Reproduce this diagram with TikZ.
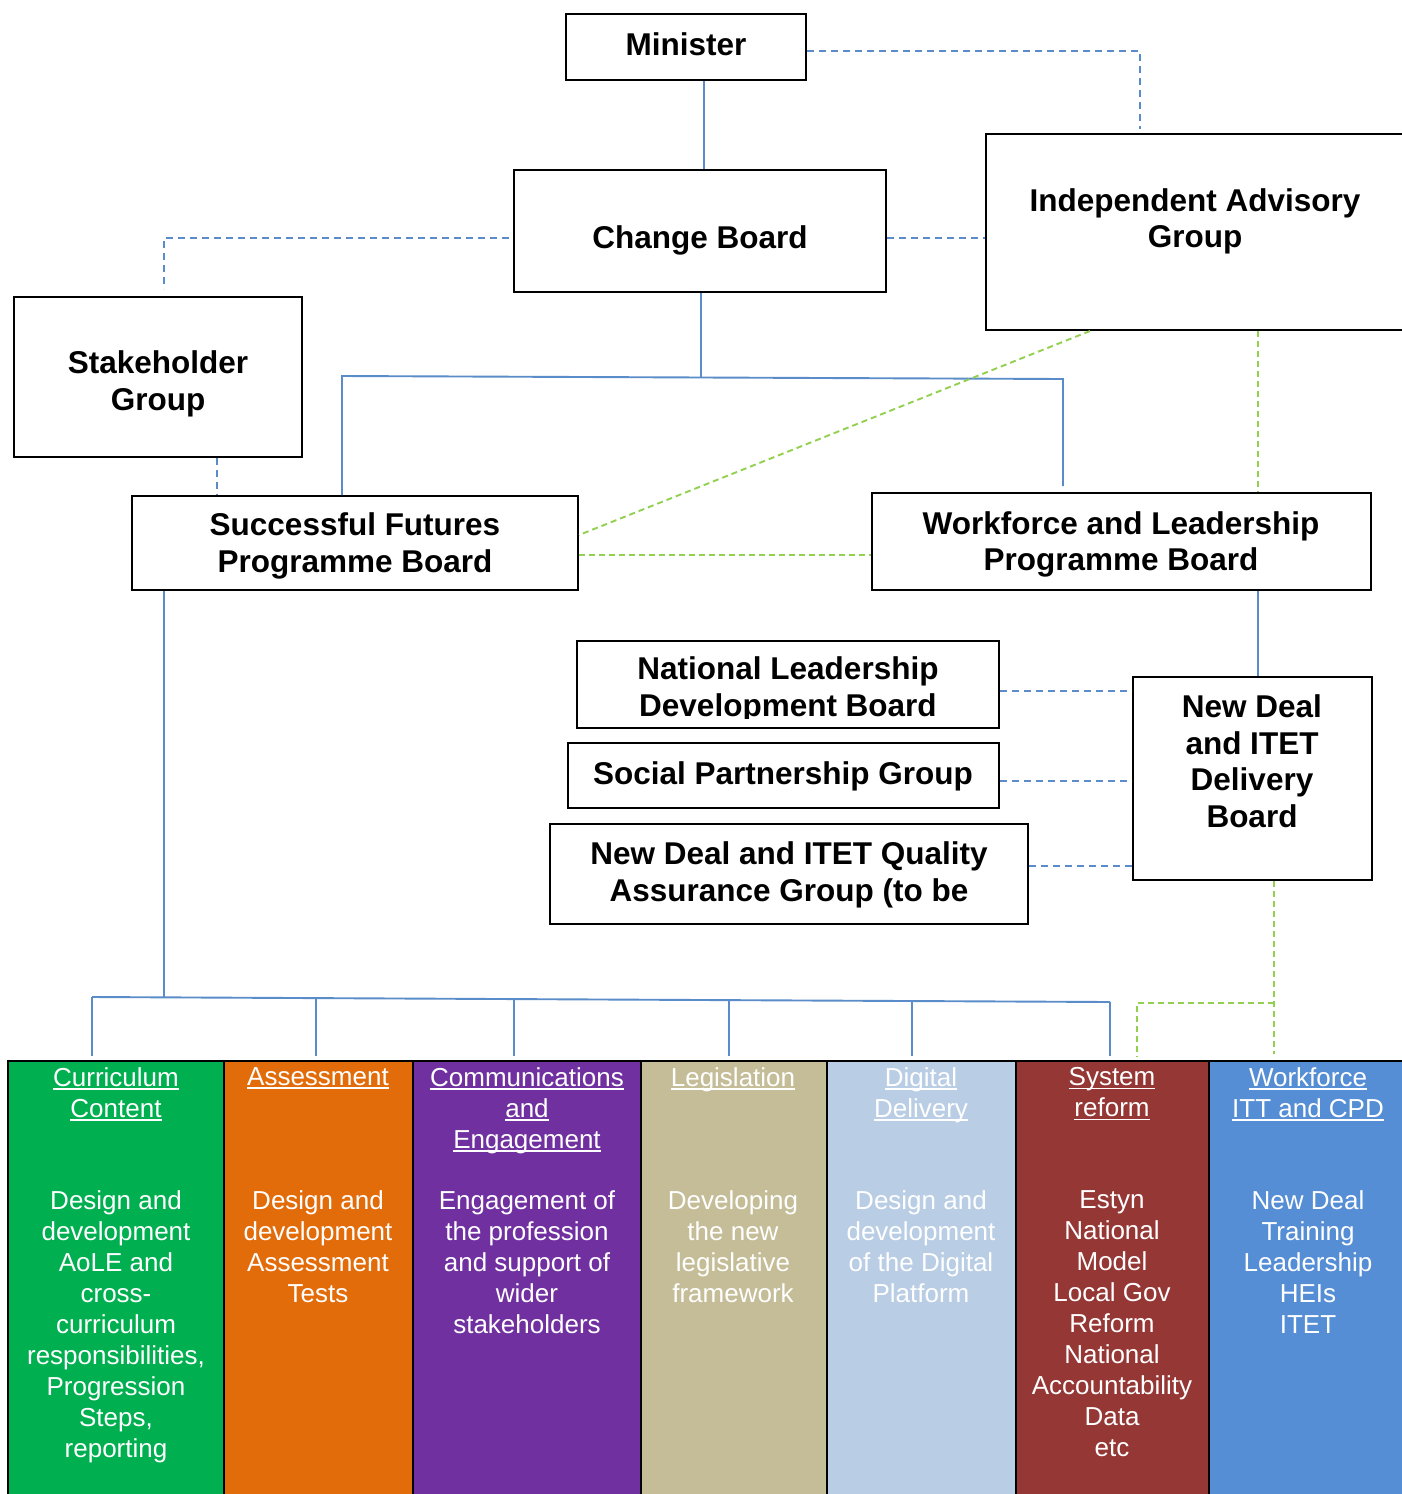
\documentclass[tikz,border=0pt]{standalone}
\usepackage{fontspec}
\setmainfont{Liberation Sans}
\definecolor{cgreen}{HTML}{00B050}
\definecolor{corange}{HTML}{E36C0A}
\definecolor{cpurple}{HTML}{7030A0}
\definecolor{ctan}{HTML}{C4BD97}
\definecolor{clblue}{HTML}{B9CDE5}
\definecolor{cred}{HTML}{953735}
\definecolor{cblue}{HTML}{558ED5}
\definecolor{linkblue}{HTML}{5A8CC9}
\definecolor{lgreen}{HTML}{92D050}
\newcommand{\myul}[1]{\setbox0\hbox{#1}\rlap{\rule[-3.6pt]{\wd0}{1.3pt}}\box0}
\tikzset{
  boxnode/.style={draw=black, line width=2pt, fill=white, inner sep=0pt},
  btext/.style={inner sep=0pt, align=center, font=\bfseries\fontsize{31.5}{36.5}\selectfont},
  colnode/.style={draw=black, line width=2.5pt, inner sep=0pt, minimum height=449pt},
  coltext/.style={inner sep=0pt, align=center, anchor=north, text=white, font=\fontsize{26}{31}\selectfont},
  solidln/.style={draw=linkblue, line width=1.9pt},
  bluedash/.style={draw=linkblue, line width=1.9pt, dash pattern=on 7pt off 5pt},
  greendash/.style={draw=lgreen, line width=1.9pt, dash pattern=on 6pt off 4pt}
}
\begin{document}
\begin{tikzpicture}[x=1pt,y=-1pt]
\useasboundingbox (0,0) rectangle (1402,1494);
\fill[white] (0,0) rectangle (1402,1494);

% ---- boxes ----
\node[boxnode, minimum width=240pt, minimum height=66pt] (min) at (686,47) {};
\node[btext] (minT) at (686,44) {Minister};
\node[boxnode, minimum width=372pt, minimum height=122pt] (cb) at (700,231) {};
\node[btext] (cbT) at (700,240) {Change Board};
\node[boxnode, minimum width=424pt, minimum height=196pt] (iag) at (1198,232) {};
\node[btext] (iagT) at (1195,221.5) {Independent Advisory\\Group};
\node[boxnode, minimum width=288pt, minimum height=160pt] (sh) at (158,377) {};
\node[btext] (shT) at (158,384) {Stakeholder\\Group};
\node[boxnode, minimum width=446pt, minimum height=94pt] (sf) at (355,543) {};
\node[btext] (sfT) at (355,546) {Successful Futures\\Programme Board};
\node[boxnode, minimum width=499pt, minimum height=97pt] (wl) at (1121.5,541.5) {};
\node[btext] (wlT) at (1121,544.5) {Workforce and Leadership\\Programme Board};
\node[boxnode, minimum width=422pt, minimum height=87pt] (nl) at (788,684.5) {};
\begin{scope}
\clip (nl.north west) rectangle ([yshift=11pt]nl.south east);
\node[btext] (nlT) at (788,690) {National Leadership\\Development Board};
\end{scope}
\node[boxnode, minimum width=431pt, minimum height=65pt] (sp) at (783.5,775.5) {};
\node[btext] (spT) at (783,776) {Social Partnership Group};
\node[boxnode, minimum width=478pt, minimum height=100pt] (qa) at (789,874) {};
\begin{scope}
\clip (qa.north west) rectangle ([yshift=12.5pt]qa.south east);
\node[btext] (qaT) at (789,893) {New Deal and ITET Quality\\Assurance Group (to be\\confirmed)};
\end{scope}
\node[boxnode, minimum width=239pt, minimum height=203pt] (nd) at (1252.5,778.5) {};
\node[btext] (ndT) at (1252,761) {New Deal\\and ITET\\Delivery\\Board};

% ---- columns ----
\node[colnode, fill=cgreen, minimum width=216pt] (colC) at (116,1285.5) {};
\node[colnode, fill=corange, minimum width=189pt] (colA) at (318.5,1285.5) {};
\node[colnode, fill=cpurple, minimum width=228pt] (colCo) at (527,1285.5) {};
\node[colnode, fill=ctan, minimum width=186pt] (colL) at (734,1285.5) {};
\node[colnode, fill=clblue, minimum width=189pt] (colD) at (921.5,1285.5) {};
\node[colnode, fill=cred, minimum width=193pt] (colS) at (1112.5,1285.5) {};
\node[colnode, fill=cblue, minimum width=201pt] (colW) at (1309.5,1285.5) {};

\node[coltext] (hC) at (116,1067) {\myul{Curriculum}\\\myul{Content}};
\node[coltext] (hA) at (318,1067) {\myul{Assessment}};
\node[coltext] (hCo) at (527,1067) {\myul{Communications}\\\myul{and}\\\myul{Engagement}};
\node[coltext] (hL) at (733,1067) {\myul{Legislation}};
\node[coltext] (hD) at (921,1067) {\myul{Digital}\\\myul{Delivery}};
\node[coltext] (hS) at (1112,1067) {\myul{System}\\\myul{reform}};
\node[coltext] (hW) at (1308,1067) {\myul{Workforce}\\\myul{ITT and CPD}};

\node[coltext] (tC) at (116,1190) {Design and\\development\\AoLE and\\cross-\\curriculum\\responsibilities,\\Progression\\Steps,\\reporting};
\node[coltext] (tA) at (318,1190) {Design and\\development\\Assessment\\Tests};
\node[coltext] (tCo) at (527,1190) {Engagement of\\the profession\\and support of\\wider\\stakeholders};
\node[coltext] (tL) at (733,1190) {Developing\\the new\\legislative\\framework};
\node[coltext] (tD) at (921,1190) {Design and\\development\\of the Digital\\Platform};
\node[coltext] (tS) at (1112,1190) {Estyn\\National\\Model\\Local Gov\\Reform\\National\\Accountability\\Data\\etc};
\node[coltext] (tW) at (1308,1190) {New Deal\\Training\\Leadership\\HEIs\\ITET};

% ---- connectors ----
\draw[solidln] ([xshift=18pt]min.south) -- ([xshift=4pt]cb.north);
\draw[bluedash] ([yshift=-4pt]min.east) -| ([xshift=-58pt,yshift=4pt]iag.north);
\draw[bluedash] ([yshift=-7pt]cb.east) -- ([yshift=-6pt]iag.west);
\draw[bluedash] ([xshift=-4pt,yshift=-7pt]cb.west) -| ([xshift=6pt,yshift=7pt]sh.north);
\draw[bluedash] ([xshift=59pt]sh.south) -- ([xshift=-138pt]sf.north);

\coordinate (busL) at (342,376);
\coordinate (busR) at (1063,379);
\coordinate (busM) at (701,377.5);
\draw[solidln] ([xshift=1pt]cb.south) -- (busM);
\draw[solidln] ([xshift=-13pt]sf.north) -- (busL) -- (busR) -- ([xshift=-58.5pt,yshift=6pt]wl.north);

\draw[greendash] ([xshift=-108pt]iag.south) -- ([yshift=8pt]sf.east);
\draw[greendash] ([yshift=-12pt]sf.east) -- ([yshift=-13.5pt]wl.west);
\draw[greendash] ([xshift=60pt]iag.south) -- ([xshift=136.5pt]wl.north);

\draw[solidln] ([xshift=136.5pt]wl.south) -- ([xshift=5.5pt]nd.north);
\draw[bluedash] ([yshift=-6.5pt]nl.east) -- ([yshift=87.5pt]nd.west);
\draw[bluedash] ([yshift=-5.5pt]sp.east) -- ([yshift=-2.5pt]nd.west);
\draw[bluedash] ([yshift=8pt]qa.east) -- ([yshift=-87.5pt]nd.west);

\coordinate (gj) at (1274,1003);
\draw[greendash] ([xshift=21.5pt]nd.south) -- ([xshift=-35.5pt,yshift=6pt]colW.north);
\draw[greendash] (gj) -| ([xshift=24.5pt,yshift=3pt]colS.north);

\coordinate (bj) at (164,997.3);
\coordinate (b1) at (92,997);
\coordinate (b2) at (316,998.1);
\coordinate (b3) at (514,999.1);
\coordinate (b4) at (729,1000.1);
\coordinate (b5) at (912,1001);
\coordinate (b6) at (1110,1002);
\draw[solidln] ([xshift=-191pt]sf.south) -- (bj);
\draw[solidln] (b1) -- (b6);
\draw[solidln] (b1) -- ([xshift=-24pt,yshift=4pt]colC.north);
\draw[solidln] (b2) -- ([xshift=-2.5pt,yshift=4pt]colA.north);
\draw[solidln] (b3) -- ([xshift=-13pt,yshift=4pt]colCo.north);
\draw[solidln] (b4) -- ([xshift=-5pt,yshift=4pt]colL.north);
\draw[solidln] (b5) -- ([xshift=-9.5pt,yshift=4pt]colD.north);
\draw[solidln] (b6) -- ([xshift=-2.5pt,yshift=4pt]colS.north);
\end{tikzpicture}
\end{document}
